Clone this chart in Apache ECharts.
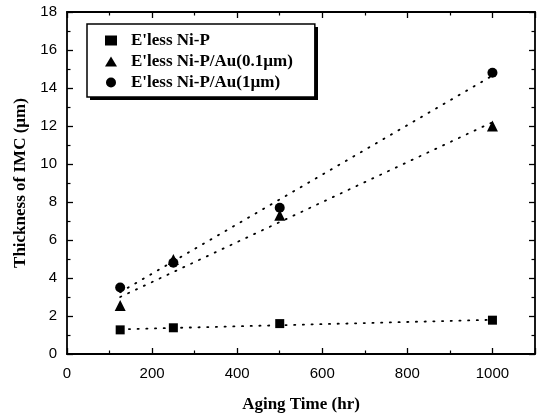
<!DOCTYPE html>
<html>
<head>
<meta charset="utf-8">
<script src="https://cdn.jsdelivr.net/npm/echarts@6/dist/echarts.min.js"></script>
<style>html,body{margin:0;padding:0;background:#fff}#c{width:538px;height:418px}</style>
</head>
<body>
<div id="c"></div>
<script>
const agingTime = [125, 250, 500, 1000];
const niP = [1.27, 1.38, 1.6, 1.78];
const niPAu01 = [2.55, 4.98, 7.3, 12.0];
const niPAu1 = [3.5, 4.8, 7.7, 14.8];
// dotted linear trend lines (read endpoints)
const trendX = [125, 1000];
const trendNiP = [1.3, 1.8];
const trendAu01 = [3.0, 12.2];
const trendAu1 = [3.25, 14.65];
const seriesNames = ["E'less Ni-P", "E'less Ni-P/Au(0.1\u00b5m)", "E'less Ni-P/Au(1\u00b5m)"];
const xTicks = { min: 0, max: 1100, interval: 200 };
const yTicks = { min: 0, max: 18, interval: 2 };

const zip = (xs, ys) => xs.map((x, i) => [x, ys[i]]);
const serif = "'Liberation Serif', 'Times New Roman', serif";
const sans = "'Liberation Sans', Arial, sans-serif";

function axisCommon(show) {
  return {
    axisLine: { show: true, onZero: false, lineStyle: { color: '#000', width: 1.8 } },
    axisTick: { show: true, inside: true, length: 6, lineStyle: { color: '#000', width: 1.3 } },
    minorTick: { show: true, splitNumber: 2, length: 3.5, lineStyle: { color: '#000', width: 1.2 } },
    splitLine: { show: false },
    axisLabel: { show: show }
  };
}

const chart = echarts.init(document.getElementById('c'));
const trendStyle = { color: '#000', width: 1.8, type: [1.2, 7.5], cap: 'round' };
chart.setOption({
  animation: false,
  backgroundColor: '#fff',
  grid: { left: 67, right: 3, top: 12, bottom: 61, containLabel: false },
  // drop shadow behind the legend box
  graphic: [{ type: 'rect', left: 90, top: 27, z: 3, shape: { width: 228, height: 73 }, style: { fill: '#000' }, silent: true }],
  legend: {
    data: seriesNames,
    orient: 'vertical',
    left: 87, top: 24, z: 6,
    itemWidth: 12, itemHeight: 10, itemGap: 4,
    padding: [8, 22, 6, 18],
    borderColor: '#000', borderWidth: 1.5,
    backgroundColor: '#fff',
    textStyle: { fontFamily: serif, fontWeight: 'bold', fontSize: 17, color: '#000', padding: [0, 0, 0, 9] }
  },
  xAxis: [
    Object.assign(axisCommon(true), {
      type: 'value', position: 'bottom', min: xTicks.min, max: xTicks.max, interval: xTicks.interval,
      name: 'Aging Time (hr)', nameLocation: 'middle', nameGap: 42,
      nameTextStyle: { fontFamily: serif, fontWeight: 'bold', fontSize: 17, color: '#000' },
      axisLabel: { show: true, showMaxLabel: false, margin: 12, fontFamily: sans, fontSize: 15, color: '#000',
        formatter: v => String(v) }
    }),
    Object.assign(axisCommon(false), {
      type: 'value', position: 'top', min: xTicks.min, max: xTicks.max, interval: xTicks.interval
    })
  ],
  yAxis: [
    Object.assign(axisCommon(true), {
      type: 'value', position: 'left', min: yTicks.min, max: yTicks.max, interval: yTicks.interval,
      name: 'Thickness of IMC (\u00b5m)', nameLocation: 'middle', nameGap: 38, nameRotate: 90,
      nameTextStyle: { fontFamily: serif, fontWeight: 'bold', fontSize: 17, color: '#000' },
      axisLabel: { show: true, margin: 10, fontFamily: sans, fontSize: 15, color: '#000', formatter: v => String(v) }
    }),
    Object.assign(axisCommon(false), {
      type: 'value', position: 'right', min: yTicks.min, max: yTicks.max, interval: yTicks.interval
    })
  ],
  series: [
    { type: 'line', data: zip(trendX, trendNiP), symbol: 'none', lineStyle: trendStyle, silent: true, z: 1 },
    { type: 'line', data: zip(trendX, trendAu01), symbol: 'none', lineStyle: trendStyle, silent: true, z: 1 },
    { type: 'line', data: zip(trendX, trendAu1), symbol: 'none', lineStyle: trendStyle, silent: true, z: 1 },
    { name: seriesNames[0], type: 'scatter', data: zip(agingTime, niP), symbol: 'rect', symbolSize: 9, itemStyle: { color: '#000', opacity: 1 }, z: 3 },
    { name: seriesNames[1], type: 'scatter', data: zip(agingTime, niPAu01), symbol: 'triangle', symbolSize: 11, itemStyle: { color: '#000', opacity: 1 }, z: 3 },
    { name: seriesNames[2], type: 'scatter', data: zip(agingTime, niPAu1), symbol: 'circle', symbolSize: 10, itemStyle: { color: '#000', opacity: 1 }, z: 3 }
  ]
});
</script>
</body>
</html>
